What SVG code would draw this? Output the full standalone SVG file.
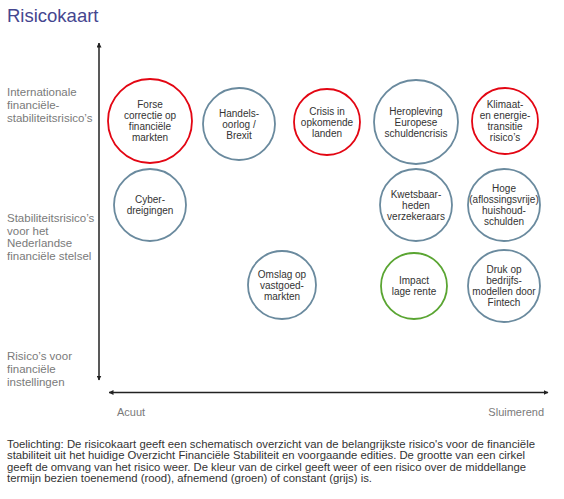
<svg xmlns="http://www.w3.org/2000/svg" width="564" height="499" viewBox="0 0 564 499">
<defs>
<style>
.title{font-family:"Liberation Sans",Arial,sans-serif;font-size:18.5px;fill:#45468f}
.lab{font-family:"Liberation Sans",Arial,sans-serif;font-size:11.5px;fill:#7a7a7a}
.ax{font-family:"Liberation Sans",Arial,sans-serif;font-size:11px;fill:#7a7a7a}
.ct{font-family:"Liberation Sans",Arial,sans-serif;font-size:10px;fill:#333;text-anchor:middle}
.note{font-family:"Liberation Sans",Arial,sans-serif;font-size:10.5px;fill:#333}
.c{fill:#fff;stroke-width:1.8}
.grey{stroke:#6a8a9e}
.red{stroke:#e30613}
.green{stroke:#5aa532}
.axis{stroke:#222;stroke-width:1.5;fill:none}
</style>
<marker id="ah" viewBox="0 0 10 10" refX="9" refY="5" markerWidth="5" markerHeight="5" orient="auto-start-reverse" markerUnits="userSpaceOnUse">
<path d="M0,0 L10,5 L0,10 z" fill="#222"/>
</marker>
</defs>
<rect width="564" height="499" fill="#fff"/>
<text class="title" x="7" y="22">Risicokaart</text>

<g id="axis-labels">
<text class="lab" x="7" y="96">Internationale</text>
<text class="lab" x="7" y="109">financiële-</text>
<text class="lab" x="7" y="122">stabiliteitsrisico’s</text>
<text class="lab" x="7" y="222">Stabiliteitsrisico’s</text>
<text class="lab" x="7" y="234.7">voor het</text>
<text class="lab" x="7" y="247.4">Nederlandse</text>
<text class="lab" x="7" y="260">financiële stelsel</text>
<text class="lab" x="7" y="360">Risico’s voor</text>
<text class="lab" x="7" y="373">financiële</text>
<text class="lab" x="7" y="386">instellingen</text>
<text class="ax" x="117" y="416">Acuut</text>
<text class="ax" x="544" y="416" text-anchor="end">Sluimerend</text>
</g>

<g id="connectors">
<line class="axis" x1="99" y1="380" x2="99" y2="43" marker-end="url(#ah)" marker-start="url(#ah)"/>
<line class="axis" x1="109" y1="392.5" x2="548" y2="392.5" marker-end="url(#ah)" marker-start="url(#ah)"/>
</g>

<g id="forse">
<circle class="c red" cx="150" cy="121" r="42"/>
<text class="ct" x="150" y="108">Forse</text>
<text class="ct" x="150" y="119">correctie op</text>
<text class="ct" x="150" y="130">financiële</text>
<text class="ct" x="150" y="141">markten</text>
</g>
<g id="handels">
<circle class="c grey" cx="239" cy="124" r="36"/>
<text class="ct" x="239" y="116.5">Handels-</text>
<text class="ct" x="239" y="127.5">oorlog /</text>
<text class="ct" x="239" y="138.5">Brexit</text>
</g>
<g id="crisis">
<circle class="c red" cx="327" cy="122" r="33"/>
<text class="ct" x="327" y="114.5">Crisis in</text>
<text class="ct" x="327" y="125.5">opkomende</text>
<text class="ct" x="327" y="136.5">landen</text>
</g>
<g id="heropleving">
<circle class="c grey" cx="416" cy="122" r="42"/>
<text class="ct" x="416" y="114.5">Heropleving</text>
<text class="ct" x="416" y="125.5">Europese</text>
<text class="ct" x="416" y="136.5">schuldencrisis</text>
</g>
<g id="klimaat">
<circle class="c red" cx="505" cy="121" r="33"/>
<text class="ct" x="505" y="108">Klimaat-</text>
<text class="ct" x="505" y="119">en energie-</text>
<text class="ct" x="505" y="130">transitie</text>
<text class="ct" x="505" y="141">risico’s</text>
</g>
<g id="cyber">
<circle class="c grey" cx="150" cy="205" r="36"/>
<text class="ct" x="150" y="202.5">Cyber-</text>
<text class="ct" x="150" y="213.5">dreigingen</text>
</g>
<g id="kwetsbaar">
<circle class="c grey" cx="416" cy="205" r="36"/>
<text class="ct" x="416" y="197.5">Kwetsbaar-</text>
<text class="ct" x="416" y="208.5">heden</text>
<text class="ct" x="416" y="219.5">verzekeraars</text>
</g>
<g id="hoge">
<circle class="c grey" cx="504" cy="205" r="36"/>
<text class="ct" x="504" y="192">Hoge</text>
<text class="ct" x="504" y="203">(aflossingsvrije)</text>
<text class="ct" x="504" y="214">huishoud-</text>
<text class="ct" x="504" y="225">schulden</text>
</g>
<g id="omslag">
<circle class="c grey" cx="282" cy="285" r="34"/>
<text class="ct" x="282" y="277.5">Omslag op</text>
<text class="ct" x="282" y="288.5">vastgoed-</text>
<text class="ct" x="282" y="299.5">markten</text>
</g>
<g id="impact">
<circle class="c green" cx="414" cy="286" r="33"/>
<text class="ct" x="414" y="284">Impact</text>
<text class="ct" x="414" y="295">lage rente</text>
</g>
<g id="druk">
<circle class="c grey" cx="504" cy="286" r="36"/>
<text class="ct" x="504" y="273">Druk op</text>
<text class="ct" x="504" y="284">bedrijfs-</text>
<text class="ct" x="504" y="295">modellen door</text>
<text class="ct" x="504" y="306">Fintech</text>
</g>

<g id="note">
<text class="note" x="7" y="448" textLength="528" lengthAdjust="spacingAndGlyphs">Toelichting: De risicokaart geeft een schematisch overzicht van de belangrijkste risico's voor de financiële</text>
<text class="note" x="7" y="459.3" textLength="518" lengthAdjust="spacingAndGlyphs">stabiliteit uit het huidige Overzicht Financiële Stabiliteit en voorgaande edities. De grootte van een cirkel</text>
<text class="note" x="7" y="470.6" textLength="519" lengthAdjust="spacingAndGlyphs">geeft de omvang van het risico weer. De kleur van de cirkel geeft weer of een risico over de middellange</text>
<text class="note" x="7" y="482" textLength="365" lengthAdjust="spacingAndGlyphs">termijn bezien toenemend (rood), afnemend (groen) of constant (grijs) is.</text>
</g>
</svg>
